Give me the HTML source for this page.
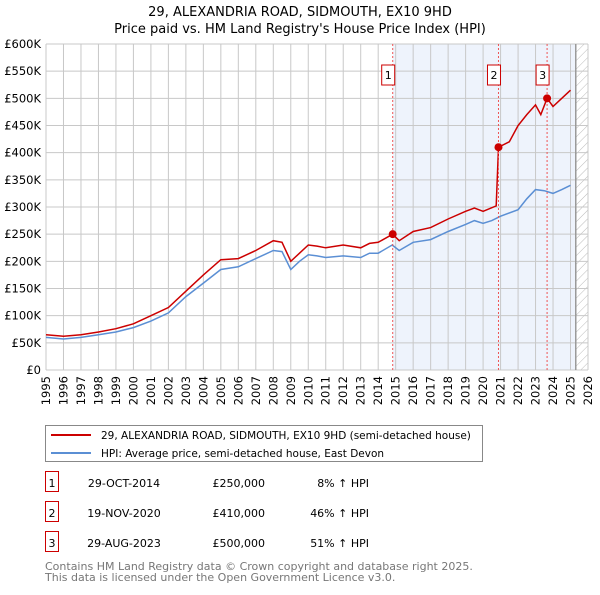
<!DOCTYPE html>
<html><head><meta charset="utf-8"><style>
body{margin:0;background:#fff;font-family:"Liberation Sans","DejaVu Sans",sans-serif;}
svg text{font-family:"DejaVu Sans","Liberation Sans",sans-serif;}
</style></head><body>
<svg id="c" width="600" height="590" xmlns="http://www.w3.org/2000/svg">
<defs><pattern id="hatch" width="6" height="6" patternUnits="userSpaceOnUse" patternTransform="rotate(45)"><line x1="0" y1="0" x2="0" y2="6" stroke="#bbb" stroke-width="1"/></pattern></defs>
<text x="300" y="16" text-anchor="middle" font-size="13">29, ALEXANDRIA ROAD, SIDMOUTH, EX10 9HD</text>
<text x="300" y="33" text-anchor="middle" font-size="13">Price paid vs. HM Land Registry's House Price Index (HPI)</text>
<g id="plot"></g>
<g>
<rect x="45.5" y="425.5" width="437" height="36" fill="#fff" stroke="#888"/>
<line x1="51" y1="435" x2="91" y2="435" stroke="#cc0000" stroke-width="2"/>
<text x="101" y="439" font-size="10.5">29, ALEXANDRIA ROAD, SIDMOUTH, EX10 9HD (semi-detached house)</text>
<line x1="51" y1="453" x2="91" y2="453" stroke="#5b8fd4" stroke-width="2"/>
<text x="101" y="457" font-size="10.5">HPI: Average price, semi-detached house, East Devon</text>
</g>
<g id="table" font-size="11"></g>
<text x="45" y="570" font-size="11" fill="#777">Contains HM Land Registry data © Crown copyright and database right 2025.</text>
<text x="45" y="581" font-size="11" fill="#777">This data is licensed under the Open Government Licence v3.0.</text>
</svg>
<script>
const hpiYears=[1995,1996,1997,1998,1999,2000,2001,2002,2003,2004,2005,2006,2007,2008,2008.5,2009,2009.5,2010,2010.5,2011,2012,2013,2013.5,2014,2014.8,2015.2,2016,2017,2018,2019,2019.5,2020,2020.5,2021,2022,2022.5,2023,2023.5,2024,2024.5,2025];
const hpiValues=[60,57,60,65,70,78,90,105,135,160,185,190,205,220,218,185,200,212,210,207,210,207,215,215,230,220,235,240,255,268,275,270,275,283,295,315,332,330,325,332,340];
const priceYears=[1995,1996,1997,1998,1999,2000,2001,2002,2003,2004,2005,2006,2007,2008,2008.5,2009,2009.5,2010,2010.5,2011,2012,2013,2013.5,2014,2014.83,2015.2,2016,2017,2018,2019,2019.5,2020,2020.75,2020.88,2021.5,2022,2022.5,2023,2023.3,2023.66,2024,2024.5,2025];
const priceValues=[65,62,65,70,76,85,100,115,145,175,203,205,220,238,235,200,215,230,228,225,230,225,233,235,250,238,255,262,278,292,298,292,302,410,420,450,470,488,470,500,485,500,515];
const saleYears=[2014.83,2020.88,2023.66];
const saleValues=[250000,410000,500000];
const saleLabels=["1","2","3"];
const saleDates=["29-OCT-2014","19-NOV-2020","29-AUG-2023"];
const salePrices=["£250,000","£410,000","£500,000"];
const saleHpi=["8% ↑ HPI","46% ↑ HPI","51% ↑ HPI"];
const yTicks=[0,50,100,150,200,250,300,350,400,450,500,550,600];
const yTickLabels=["£0","£50K","£100K","£150K","£200K","£250K","£300K","£350K","£400K","£450K","£500K","£550K","£600K"];
const xTicks=[1995,1996,1997,1998,1999,2000,2001,2002,2003,2004,2005,2006,2007,2008,2009,2010,2011,2012,2013,2014,2015,2016,2017,2018,2019,2020,2021,2022,2023,2024,2025,2026];

const X0=46,X1=588,Y0=370,Y1=44;
const sx=y=>X0+(y-1995)/(2026-1995)*(X1-X0);
const sy=v=>Y0-v/600*(Y0-Y1);
const NS="http://www.w3.org/2000/svg";
const g=document.getElementById('plot');
function mk(t,a,p){const e=document.createElementNS(NS,t);for(const k in a)e.setAttribute(k,a[k]);(p||g).appendChild(e);return e;}
let r=mk('rect',{x:sx(saleYears[0]),y:Y1,width:sx(2025.3)-sx(saleYears[0]),height:Y0-Y1,fill:'#eef3fc'});


r=mk('rect',{x:sx(2025.3),y:Y1,width:X1-sx(2025.3),height:Y0-Y1,fill:'url(#hatch)'});


yTicks.forEach((t,i)=>{
 const l=mk('line',{x1:X0,x2:X1,y1:sy(t),y2:sy(t),stroke:'#c8c8c8','stroke-width':1});
 
 
 const tx=mk('text',{x:X0-5,y:sy(t)+4,'text-anchor':'end','font-size':11.5});
 tx.textContent=yTickLabels[i];
 
 
});
xTicks.forEach(t=>{
 const l=mk('line',{x1:sx(t),x2:sx(t),y1:Y1,y2:Y0,stroke:'#c8c8c8','stroke-width':1});
 
 
 const tx=mk('text',{x:0,y:0,'text-anchor':'end','font-size':11.5,transform:`translate(${sx(t)+4},${Y0+6}) rotate(-90)`});
 tx.textContent=t;
 
 
});
let ln=mk('line',{x1:sx(2025.3),x2:sx(2025.3),y1:Y1,y2:Y0,stroke:'#999','stroke-width':1.5});


const pts=(xs,vs)=>xs.map((y,i)=>sx(y).toFixed(1)+','+sy(vs[i]).toFixed(1)).join(' ');
let hp=mk('polyline',{points:pts(hpiYears,hpiValues),fill:'none',stroke:'#5b8fd4','stroke-width':1.5});


let pp=mk('polyline',{points:pts(priceYears,priceValues),fill:'none',stroke:'#cc0000','stroke-width':1.5});


saleYears.forEach((y,i)=>{
 const d=mk('line',{x1:sx(y),x2:sx(y),y1:Y1,y2:Y0,stroke:'#e55','stroke-width':1,'stroke-dasharray':'2,2'});
 
 
 const c=mk('circle',{cx:sx(y),cy:sy(saleValues[i]/1000),r:4,fill:'#cc0000'});
 
 
 const b=mk('rect',{x:sx(y)-11,y:65,width:13,height:20,fill:'#fff',stroke:'#cc0000'});
 
 
 const t=mk('text',{x:sx(y)-4.5,y:79,'text-anchor':'middle','font-size':11});
 t.textContent=saleLabels[i];
 
 
});
const tb=document.getElementById('table');
saleLabels.forEach((s,i)=>{
 const y=483+i*30;
 const b=mk('rect',{x:45.5,y:y-11.5,width:13,height:20,fill:'#fff',stroke:'#cc0000'},tb);
 
 
 const cells=[[52,'middle',s],[124,'middle',saleDates[i]],[265,'end',salePrices[i]],[369,'end',saleHpi[i]]];
 cells.forEach(c=>{const t=mk('text',{x:c[0],y:y+4,'text-anchor':c[1]},tb);t.textContent=c[2];
  
  });
});
</script>
</body></html>
